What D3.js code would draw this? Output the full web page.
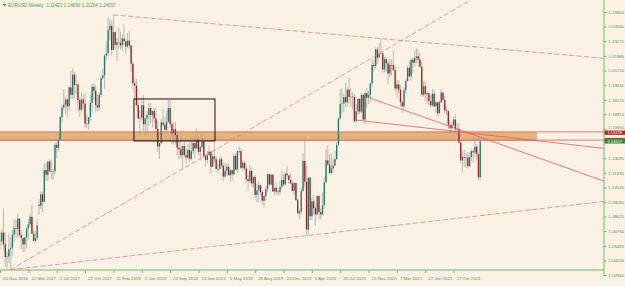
<!DOCTYPE html>
<html>
<head>
<meta charset="utf-8">
<script src="https://cdn.jsdelivr.net/npm/d3@7"></script>
<style>
  html, body { margin: 0; padding: 0; background: #fbf1e5; }
  svg { display: block; font-family: "Liberation Sans", Arial, sans-serif; }
</style>
</head>
<body>
<div id="chart"></div>
<script>
// EURUSD weekly, [open, high, low, close] in price x 10000, one row per week
const ohlc2016 = [
  [10587,10668,10518,10588],[10588,10690,10550,10663],[10663,10874,10506,10560],[10560,10667,10367,10450],
  [10450,10496,10352,10455],[10455,10652,10400,10517]
];
const ohlc2017 = [
  [10517,10620,10340,10530],[10530,10685,10454,10645],[10645,10775,10580,10700],[10700,10774,10620,10694],
  [10694,10829,10618,10783],[10783,10790,10630,10640],[10640,10680,10520,10615],[10615,10620,10493,10560],
  [10560,10630,10495,10620],[10620,10710,10525,10700],[10700,10780,10600,10735],[10735,10825,10710,10800],
  [10800,10905,10650,10652],[10652,10690,10590,10590],[10590,10675,10570,10615],[10615,10780,10600,10725],
  [10905,10950,10820,10895],[10895,11020,10870,10995],[10995,11020,10840,10930],[10930,11265,10925,11205],
  [11205,11268,11110,11165],[11165,11285,11110,11280],[11280,11296,11190,11195],[11195,11295,11130,11195],
  [11195,11215,11120,11195],[11195,11445,11165,11425],[11425,11450,11310,11400],[11400,11490,11370,11470],
  [11470,11680,11470,11665],[11665,11775,11610,11750],[11750,11910,11730,11775],[11775,11845,11690,11820],
  [11820,11830,11660,11760],[11760,11940,11720,11925],[11925,12070,11825,11860],[11860,12090,11825,12035],
  [12035,12060,11835,11945],[11945,12035,11860,11950],[11950,11960,11715,11815],[11815,11830,11670,11730],
  [11730,11880,11715,11820],[11820,11860,11730,11785],[11785,11880,11575,11610],[11610,11690,11570,11610],
  [11610,11665,11555,11665],[11665,11860,11630,11790],[11790,11960,11715,11930],[11930,11960,11810,11895],
  [11895,11940,11715,11770],[11770,11860,11715,11750],[11750,11880,11720,11860],[11860,12025,11835,12005],
  [12005,12090,11995,12030]
];
const ohlc2018 = [
  [12030,12215,11915,12200],[12200,12325,12165,12220],[12220,12535,12200,12425],[12425,12520,12335,12460],
  [12460,12505,12205,12250],[12250,12555,12245,12405],[12405,12415,12260,12295],[12295,12355,12155,12315],
  [12315,12445,12270,12310],[12310,12410,12255,12290],[12290,12390,12240,12350],[12350,12475,12290,12325],
  [12325,12345,12215,12280],[12280,12395,12270,12330],[12330,12415,12260,12290],[12290,12295,12055,12130],
  [12130,12155,11910,11960],[11960,11995,11820,11940],[11940,11995,11750,11770],[11770,11830,11645,11655],
  [11655,11725,11510,11660],[11660,11840,11645,11770],[11770,11855,11540,11605],[11605,11660,11510,11655],
  [11655,11720,11525,11685],[11685,11790,11590,11745],[11745,11790,11615,11685],[11685,11720,11575,11720],
  [11720,11750,11615,11655],[11655,11745,11530,11565],[11565,11635,11365,11410],[11410,11445,11300,11440],
  [11440,11650,11430,11620],[11620,11735,11580,11600],[11600,11670,11510,11555],[11555,11720,11530,11625],
  [11625,11815,11620,11745],[11745,11815,11570,11605],[11605,11625,11430,11525],[11525,11620,11430,11560],
  [11560,11620,11430,11510],[11510,11550,11335,11400],[11400,11455,11300,11385],[11385,11500,11310,11335],
  [11335,11420,11215,11415],[11415,11475,11320,11335],[11335,11390,11265,11315],[11315,11425,11300,11380],
  [11380,11445,11270,11305],[11305,11485,11290,11370],[11370,11485,11350,11440],[11440,11500,11310,11395]
];
const ohlc2019 = [
  [11395,11570,11390,11470],[11470,11500,11335,11365],[11365,11415,11290,11405],[11405,11515,11390,11455],
  [11455,11485,11320,11325],[11325,11345,11235,11295],[11295,11370,11265,11335],[11335,11420,11330,11365],
  [11365,11375,11175,11235],[11235,11345,11230,11325],[11325,11450,11270,11300],[11300,11325,11210,11215],
  [11215,11255,11180,11215],[11215,11325,11210,11300],[11300,11325,11225,11245],[11245,11265,11110,11150],
  [11150,11265,11135,11200],[11200,11265,11160,11235],[11235,11265,11160,11160],[11160,11215,11105,11205],
  [11205,11215,11115,11170],[11170,11350,11160,11330],[11330,11350,11210,11210],[11210,11370,11180,11370],
  [11370,11410,11345,11370],[11370,11390,11210,11225],[11225,11290,11195,11270],[11270,11285,11200,11220],
  [11220,11255,11100,11125],[11125,11160,11025,11110],[11110,11250,11090,11200],[11200,11230,11065,11090],
  [11090,11150,11050,11145],[11145,11165,10965,10990],[10990,11085,10925,11030],[11030,11110,10925,11075],
  [11075,11075,10990,11015],[11015,11030,10905,10940],[10940,10990,10880,10980],[10980,11065,10940,11040],
  [11040,11170,11010,11170],[11170,11180,11075,11080],[11080,11175,11075,11165],[11165,11175,11015,11020],
  [11020,11065,10990,11050],[11050,11095,10995,11020],[11020,11030,10980,11015],[11015,11115,10990,11060],
  [11060,11200,11040,11120],[11120,11175,11065,11080],[11080,11190,11070,11175],[11175,11240,11125,11160]
];
const ohlc2020 = [
  [11160,11165,11085,11120],[11120,11175,11085,11090],[11090,11115,11020,11025],[11025,11100,10990,11095],
  [11095,11095,10940,10945],[10945,10955,10830,10830],[10830,10865,10780,10845],[10845,11055,10820,11025],
  [11025,11355,11015,11285],[11285,11495,11055,11105],[11105,11240,10640,10690],[10690,11145,10635,11140],
  [11140,11145,10770,10805],[10805,10960,10770,10935],[10935,10990,10815,10875],[10875,10890,10725,10820],
  [10820,10990,10815,10980],[10980,10990,10780,10840],[10840,10875,10775,10820],[10820,11010,10815,10900],
  [10900,11145,10870,11100],[11100,11385,11095,11290],[11290,11420,11240,11255],[11255,11350,11170,11180],
  [11180,11350,11170,11220],[11220,11305,11185,11245],[11245,11375,11240,11300],[11300,11450,11300,11425],
  [11425,11655,11420,11655],[11655,11910,11640,11780],[11780,11915,11700,11785],[11785,11865,11710,11840],
  [11840,11965,11755,11795],[11795,11920,11755,11905],[11905,12010,11780,11840],[11840,11915,11755,11845],
  [11845,11885,11735,11840],[11840,11870,11625,11630],[11630,11780,11615,11715],[11715,11830,11685,11825],
  [11825,11830,11690,11715],[11715,11880,11700,11860],[11860,11860,11640,11645],[11645,11890,11605,11875],
  [11875,11920,11745,11835],[11835,11895,11780,11860],[11860,11965,11800,11960],[11960,12175,11925,12120],
  [12120,12165,12060,12110],[12110,12270,12090,12255],[12255,12275,12130,12185],[12185,12310,12175,12215]
];
const ohlc2021 = [
  [12215,12350,12210,12220],[12220,12220,12055,12080],[12080,12190,12055,12170],[12170,12190,12060,12135],
  [12135,12150,11950,12045],[12045,12170,12015,12120],[12120,12170,12025,12120],[12120,12245,12070,12075],
  [12075,12115,11895,11915],[11915,11990,11835,11950],[11950,11990,11875,11905],[11905,11945,11760,11795],
  [11795,11810,11705,11760],[11760,11925,11745,11900],[11900,11995,11870,11980],[11980,12115,11975,12095],
  [12095,12150,12015,12020],[12020,12165,11985,12165],[12165,12185,12050,12140],[12140,12245,12105,12180],
  [12180,12265,12135,12195],[12195,12255,12105,12165],[12165,12220,12095,12105],[12105,12145,11845,11860],
  [11860,11975,11845,11935],[11935,11975,11805,11865],[11865,11895,11780,11875],[11875,11880,11770,11805],
  [11805,11850,11750,11770],[11770,11910,11755,11870],[11870,11900,11755,11760],[11760,11805,11705,11795],
  [11795,11805,11665,11700],[11700,11810,11690,11795],[11795,11910,11790,11880],[11880,11885,11805,11815],
  [11815,11850,11700,11725],[11725,11755,11685,11720],[11720,11720,11565,11595],[11595,11640,11530,11570],
  [11570,11625,11525,11600],[11600,11670,11585,11645],[11645,11690,11535,11560],[11560,11615,11510,11565],
  [11565,11615,11435,11445],[11445,11465,11265,11290],[11290,11375,11185,11320],[11320,11385,11235,11315],
  [11315,11355,11225,11315],[11315,11360,11220,11240],[11240,11360,11235,11320],[11320,11385,11280,11370]
];
const ohlc2022 = [
  [11370,11385,11270,11360],[11360,11480,11315,11410],[11410,11435,11290,11345],[11345,11350,11120,11145],
  [11142,11483,11120,11456]
];
const firstWeek = "2016-11-20";

// time axis labels and price axis labels
const timeLabels = ["2016-11-20","2017-03-12","2017-07-02","2017-10-22","2018-02-11","2018-06-03","2018-09-23",
  "2019-01-13","2019-05-05","2019-08-25","2019-12-15","2020-04-05","2020-07-26","2020-11-15","2021-03-07",
  "2021-06-27","2021-10-17"];
const priceLabels = [1.25800,1.24540,1.23275,1.21985,1.20720,1.19430,1.18170,1.16910,1.15650,
  1.13095,1.11835,1.10540,1.09280,1.08020,1.06760,1.05465,1.04205,1.02940];

// drawn objects (week index, price)
const zoneBand = {from: 0, to: 303, top: 1.15378, bottom: 1.14580};
const hLines = [1.15378, 1.14665];
const boxRect = {from: 75.6, to: 121.3, top: 1.18240, bottom: 1.14590};
const trendLines = [
  {a: [6, 1.0340], b: [103, 1.1216], dash: true},
  {a: [64, 1.2555], b: [215, 1.2349], dash: true},
  {a: [6, 1.0340], b: [173, 1.0636], dash: true},
  {a: [208.8, 1.1832], b: [260, 1.1552], dash: false},
  {a: [200.9, 1.1641], b: [260, 1.1537], dash: false}
];
const title = "EURUSD,Weekly  1.11422 1.14830 1.11204 1.14557";
const sideTags = [
  {price: 1.15378, text: "1.15378", color: "#b3262b"},
  {price: 1.14665, text: "1.14665", color: "#c0393b"},
  {price: 1.14557, text: "1.14557", color: "#2f8f3a"}
];

const W = 625, H = 286;
const plotRight = 604, plotBottom = 270;
const step = 1.772;
const green = "#6dbb6d", textGreen = "#4c9e4c";

const candles = [].concat(ohlc2016, ohlc2017, ohlc2018, ohlc2019, ohlc2020, ohlc2021, ohlc2022)
  .map((d, i) => ({i: i, o: d[0] / 10000, h: d[1] / 10000, l: d[2] / 10000, c: d[3] / 10000}));

const start = new Date(firstWeek + "T00:00:00Z");
const weekOf = i => d3.utcWeek.offset(start, i);
const xi = d3.scaleLinear().domain([0, 1]).range([0, step]);
const x = d3.scaleUtc().domain([start, weekOf(1)]).range([0, step]);
const y = d3.scaleLinear().domain([1.02940, 1.25800]).range([275, 12]);

const svg = d3.select("#chart").append("svg")
  .attr("width", W).attr("height", H);

svg.append("rect").attr("width", W).attr("height", H).attr("fill", "#fbf1e5");

svg.append("clipPath").attr("id", "plot")
  .append("rect").attr("x", 0).attr("y", 0).attr("width", plotRight).attr("height", plotBottom);

const plot = svg.append("g").attr("clip-path", "url(#plot)");

// zone band
plot.append("rect")
  .attr("x", xi(zoneBand.from)).attr("width", xi(zoneBand.to) - xi(zoneBand.from))
  .attr("y", y(zoneBand.top)).attr("height", y(zoneBand.bottom) - y(zoneBand.top))
  .attr("fill", "#e0b47f");

// candles
const bars = plot.append("g");
bars.selectAll("line").data(candles).join("line")
  .attr("x1", d => xi(d.i)).attr("x2", d => xi(d.i))
  .attr("y1", d => y(d.h)).attr("y2", d => y(d.l))
  .attr("stroke", "#a3a09b").attr("stroke-width", 0.7);
bars.selectAll("rect").data(candles).join("rect")
  .attr("x", d => xi(d.i) - 0.65).attr("width", 1.3)
  .attr("y", d => y(Math.max(d.o, d.c)))
  .attr("height", d => Math.max(0.6, Math.abs(y(d.o) - y(d.c))))
  .attr("fill", d => d.c >= d.o ? "#1c7a68" : "#9c1d20");

// horizontal lines
plot.selectAll(".hl").data(hLines).join("line").attr("class", "hl")
  .attr("x1", 0).attr("x2", plotRight)
  .attr("y1", d => y(d)).attr("y2", d => y(d))
  .attr("stroke", "#e25b5b").attr("stroke-width", 0.8);

// black rectangle
plot.append("rect")
  .attr("x", xi(boxRect.from)).attr("width", xi(boxRect.to) - xi(boxRect.from))
  .attr("y", y(boxRect.top)).attr("height", y(boxRect.bottom) - y(boxRect.top))
  .attr("fill", "none").attr("stroke", "#111").attr("stroke-width", 1);

// trend lines as rays to the right
const iEnd = xi.invert(plotRight + 5);
trendLines.forEach(t => {
  const slope = (t.b[1] - t.a[1]) / (t.b[0] - t.a[0]);
  const pEnd = t.a[1] + slope * (iEnd - t.a[0]);
  plot.append("line")
    .attr("x1", xi(t.a[0])).attr("y1", y(t.a[1]))
    .attr("x2", xi(iEnd)).attr("y2", y(pEnd))
    .attr("stroke", t.dash ? "#ee7f8a" : "#ef5a5a")
    .attr("stroke-width", 0.8)
    .attr("stroke-dasharray", t.dash ? "5,2.5" : null);
});

// frame
svg.append("line").attr("x1", 0).attr("x2", plotRight).attr("y1", plotBottom).attr("y2", plotBottom)
  .attr("stroke", green).attr("stroke-width", 1);
svg.append("line").attr("x1", plotRight).attr("x2", plotRight).attr("y1", 0).attr("y2", 276)
  .attr("stroke", green).attr("stroke-width", 1);

// time axis
const tAxis = svg.append("g").attr("transform", `translate(0,${plotBottom})`)
  .call(d3.axisBottom(x)
    .tickValues(timeLabels.map(s => new Date(s + "T00:00:00Z")))
    .tickFormat(d3.utcFormat("%-d %b %Y"))
    .tickSize(3).tickSizeOuter(0));
tAxis.select(".domain").remove();
tAxis.selectAll(".tick line").attr("stroke", green);
tAxis.selectAll(".tick text")
  .attr("text-anchor", "start").attr("x", 2.5).attr("y", 7).attr("dy", "0.71em")
  .attr("fill", textGreen).attr("font-size", 4.4).attr("font-family", "Liberation Sans, Arial, sans-serif");

// price axis
const pAxis = svg.append("g").attr("transform", `translate(${plotRight},0)`)
  .call(d3.axisRight(y).tickValues(priceLabels).tickFormat(d3.format(".5f")).tickSize(2.5).tickPadding(1.8));
pAxis.select(".domain").remove();
pAxis.selectAll(".tick line").attr("stroke", green);
pAxis.selectAll(".tick text")
  .attr("fill", textGreen).attr("font-size", 4.4).attr("font-family", "Liberation Sans, Arial, sans-serif");
// the 1.15650 label sits just above the first tag
pAxis.selectAll(".tick text").filter(d => d === 1.15650).attr("dy", "-0.05em");

// price tags on the scale
const tags = svg.append("g");
sideTags.forEach((s, k) => {
  const yy = y(s.price) + (k === 0 ? 0.8 : 0);
  tags.append("rect").attr("x", plotRight + 0.5).attr("y", yy - 2.2).attr("width", 21).attr("height", 4.4)
    .attr("fill", s.color);
  tags.append("text").attr("x", plotRight + 3.5).attr("y", yy).attr("dy", "0.35em")
    .attr("font-size", 4).attr("fill", "#fff").text(s.text);
});

// title
svg.append("path").attr("d", "M2.5,4 L6.5,4 L4.5,6.6 Z").attr("fill", "#3f8f3f");
svg.append("text").attr("x", 8).attr("y", 7.3).attr("font-size", 4.6).attr("fill", textGreen)
  .attr("xml:space", "preserve").text(title);
</script>
</body>
</html>
